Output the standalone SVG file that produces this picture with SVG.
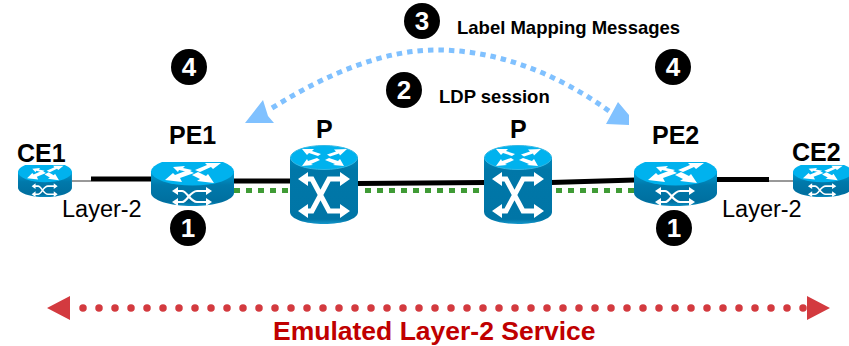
<svg xmlns="http://www.w3.org/2000/svg" xmlns:xlink="http://www.w3.org/1999/xlink" width="849" height="346" viewBox="0 0 849 346">
<style>
text{font-family:"Liberation Sans",Arial,sans-serif;fill:#000}
.name{font-size:25px;font-weight:700}
.l2{font-size:23.500px}
.note{font-size:18.500px;font-weight:700}
.num{font-size:26px;font-weight:700;fill:#fff;text-anchor:middle}
.thick{stroke:#000;stroke-width:5;fill:none}
.thin{stroke:#333;stroke-width:1;fill:none}
.green{stroke:#3f9b35;stroke-width:5;stroke-dasharray:6 6;fill:none}
.wa{fill:none;stroke:#fff}
</style>
<defs>
<linearGradient id="side" x1="0" y1="0" x2="0" y2="1"><stop offset="0" stop-color="#00a0d6"/><stop offset=".4" stop-color="#0079ab"/><stop offset=".88" stop-color="#006f9f"/><stop offset="1" stop-color="#0a8fc4"/></linearGradient>
<linearGradient id="pside" x1="0" y1="0" x2="0" y2="1"><stop offset="0" stop-color="#0088bb"/><stop offset=".2" stop-color="#0077a8"/><stop offset=".93" stop-color="#0075a6"/><stop offset="1" stop-color="#1598cc"/></linearGradient>
<clipPath id="rtop"><rect x="-1" y="0" width="85" height="30"/></clipPath>
<g id="router">
<path d="M0 9V31C0 38 18.500 44 41.500 44S83 38 83 31V9Z" fill="url(#side)"/>
<ellipse cx="41.500" cy="9.500" rx="41.500" ry="14" fill="#00b2ee" clip-path="url(#rtop)"/>
<g fill="#fff">
<path d="M14 18L22 11L24 13L37 8L43 11L29 16L31 20Z"/>
<path d="M63 21L57 12L55 14L47 10L41 13L49 17L46 19Z"/>
<path d="M22 5L34 4L32 6L41 8L37 10L28 8L27 10Z"/>
<path d="M70 1L62 7L60 5L49 10L44 8L56 3L54 1Z"/>
</g>
<path class="wa" stroke-width="2.200" d="M24 29H31C36 29 39 40 46 40H56M24 40H31C36 40 39 29 46 29H56"/>
<path fill="#fff" d="M21 29l6-4v8zM21 40l6-4v8zM61 29l-6-4v8zM61 40l-6-4v8z"/>
</g>
<g id="ptop">
<path d="M0 12V67C0 74 15 79 34 79S68 74 68 67V12Z" fill="url(#pside)"/>
<ellipse cx="34" cy="12.500" rx="33.500" ry="12" fill="#00b2ee" stroke="#35b8e4" stroke-width="1"/>
<g fill="#fff">
<path d="M12 4L24 4L22 6L31 9L28 11L19 8L17 10Z"/>
<path d="M57 4L44 4.500L46 6.500L37 9.500L40 11.500L49 8.500L50 10.500Z"/>
<path d="M12 21L23 20L21 19L30 15L27 13L18 16L17 14Z"/>
<path d="M54 21L43 20L45 19L35 15L39 13L48 16L50 14Z"/>
</g>
<path class="wa" stroke-width="5" d="M12 34H22L39 66H56M12 66H22L39 34H56"/>
<path fill="#fff" d="M8 34l10-7v14zM8 66l10-7v14zM60 34l-10-7v14zM60 66l-10-7v14z"/>
</g>
</defs>
<g id="connectors">
<path class="thin" d="M72 181H91"/>
<path class="thick" d="M91 179H152"/>
<path class="thick" d="M233 181H291"/>
<path class="thick" d="M357 183.500L485 182.500"/>
<path class="thick" d="M551 182.500L635 180"/>
<path class="thick" d="M716 179.500H769"/>
<path class="thin" d="M769 181H793"/>
<path class="green" d="M234 190.500H288"/>
<path class="green" d="M365 190.500H484"/>
<path class="green" d="M556 190.500H634"/>
<path d="M272 108C330 72 385 50 437 50C495 50 555 72 609 111" fill="none" stroke="#80c1ff" stroke-width="5" stroke-dasharray="5.500 5"/>
<path fill="#80c1ff" d="M263 100L245 123H274L268 116zM618 102L606 124L629 125V115z"/>
<path d="M83 308H806" fill="none" stroke="#d33a3f" stroke-width="7.500" stroke-linecap="round" stroke-dasharray="0 16"/>
<path fill="#d33a3f" d="M47 308L70 296V320zM830 308L807 296V320z"/>
</g>
<g id="ce1"><use xlink:href="#router" transform="translate(18 165) scale(.65 .73)"/><text class="name" x="17" y="162">CE1</text></g>
<g id="pe1"><use xlink:href="#router" transform="translate(151 162)"/><text class="name" x="169" y="144">PE1</text></g>
<g id="p1"><use xlink:href="#ptop" transform="translate(290 145)"/><text class="name" x="316" y="138">P</text></g>
<g id="p2"><use xlink:href="#ptop" transform="translate(484 145)"/><text class="name" x="510" y="138">P</text></g>
<g id="pe2"><use xlink:href="#router" transform="translate(634 162)"/><text class="name" x="652" y="144">PE2</text></g>
<g id="ce2"><use xlink:href="#router" transform="translate(793 165) scale(.71 .73)"/><text class="name" x="792" y="161">CE2</text></g>
<g id="labels">
<text class="l2" x="62" y="217">Layer-2</text>
<text class="l2" x="722" y="217">Layer-2</text>
<text class="note" x="457" y="34">Label Mapping Messages</text>
<text class="note" x="439" y="103">LDP session</text>
<text x="273" y="340" font-size="26.500" font-weight="700" style="fill:#c00000">Emulated Layer-2 Service</text>
</g>
<g id="badge-4a"><circle cx="189" cy="67" r="18"/><text class="num" x="189" y="76">4</text></g>
<g id="badge-4b"><circle cx="673" cy="67" r="18"/><text class="num" x="673" y="76">4</text></g>
<g id="badge-3"><circle cx="422" cy="21" r="18"/><text class="num" x="422" y="30">3</text></g>
<g id="badge-2"><circle cx="404" cy="90" r="18"/><text class="num" x="404" y="99">2</text></g>
<g id="badge-1a"><circle cx="188" cy="228" r="18"/><text class="num" x="188" y="237">1</text></g>
<g id="badge-1b"><circle cx="674" cy="228" r="18"/><text class="num" x="674" y="237">1</text></g>
</svg>
